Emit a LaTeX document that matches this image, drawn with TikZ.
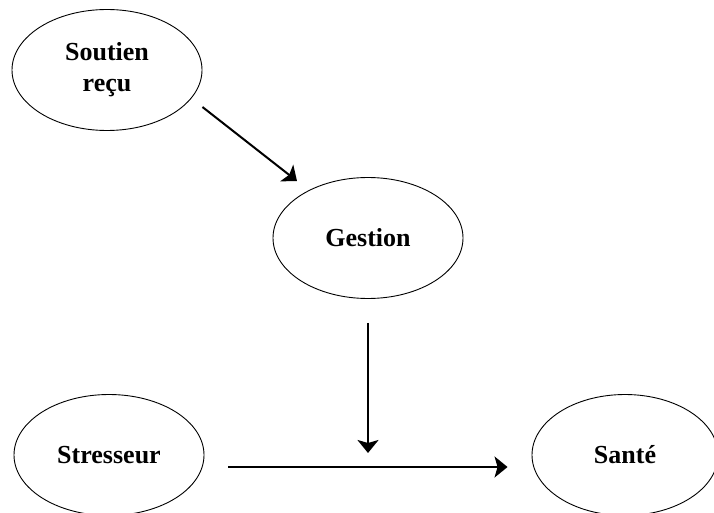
\documentclass[tikz,border=0pt]{standalone}
\usepackage{fontspec}
\setmainfont{Liberation Serif}
\usepackage{tikz}
\usetikzlibrary{arrows.meta,shapes.geometric}

\begin{document}
\begin{tikzpicture}[>={Stealth[length=13pt,width=21pt,inset=3pt]},auto,
    var/.style={ellipse,draw,line width=0.9pt,minimum width=190pt,minimum height=121pt,
      inner sep=0pt,align=center,font=\bfseries\fontsize{26pt}{31pt}\selectfont},
    link/.style={->,line width=2pt}]
            % \useasboundingbox keeps the page size of the scan
            \useasboundingbox (0,0) rectangle (714pt,-513pt);

            \node[var]         (Sout)  at (107pt,-70pt)    {Soutien\\reçu};
            \node[var]         (Gest)  at (368pt,-238pt)   {Gestion};
            \node[var]         (Stres) at (109pt,-455pt)   {Stresseur};
            \node[var,minimum width=186pt] (Sante) at (625pt,-455pt) {Santé};

            \draw[link] ([shift={(24pt,-12pt)}]Stres.east) -- coordinate (mid) ([shift={(-24pt,-12pt)}]Sante.west);
            \draw[link] ([yshift=-24pt]Gest.south) -- ([yshift=14pt]mid);
            \draw[link] ([yshift=-37pt]Sout.east) -- ([shift={(-71pt,-4pt)}]Gest.north);
        \end{tikzpicture}
\end{document}
